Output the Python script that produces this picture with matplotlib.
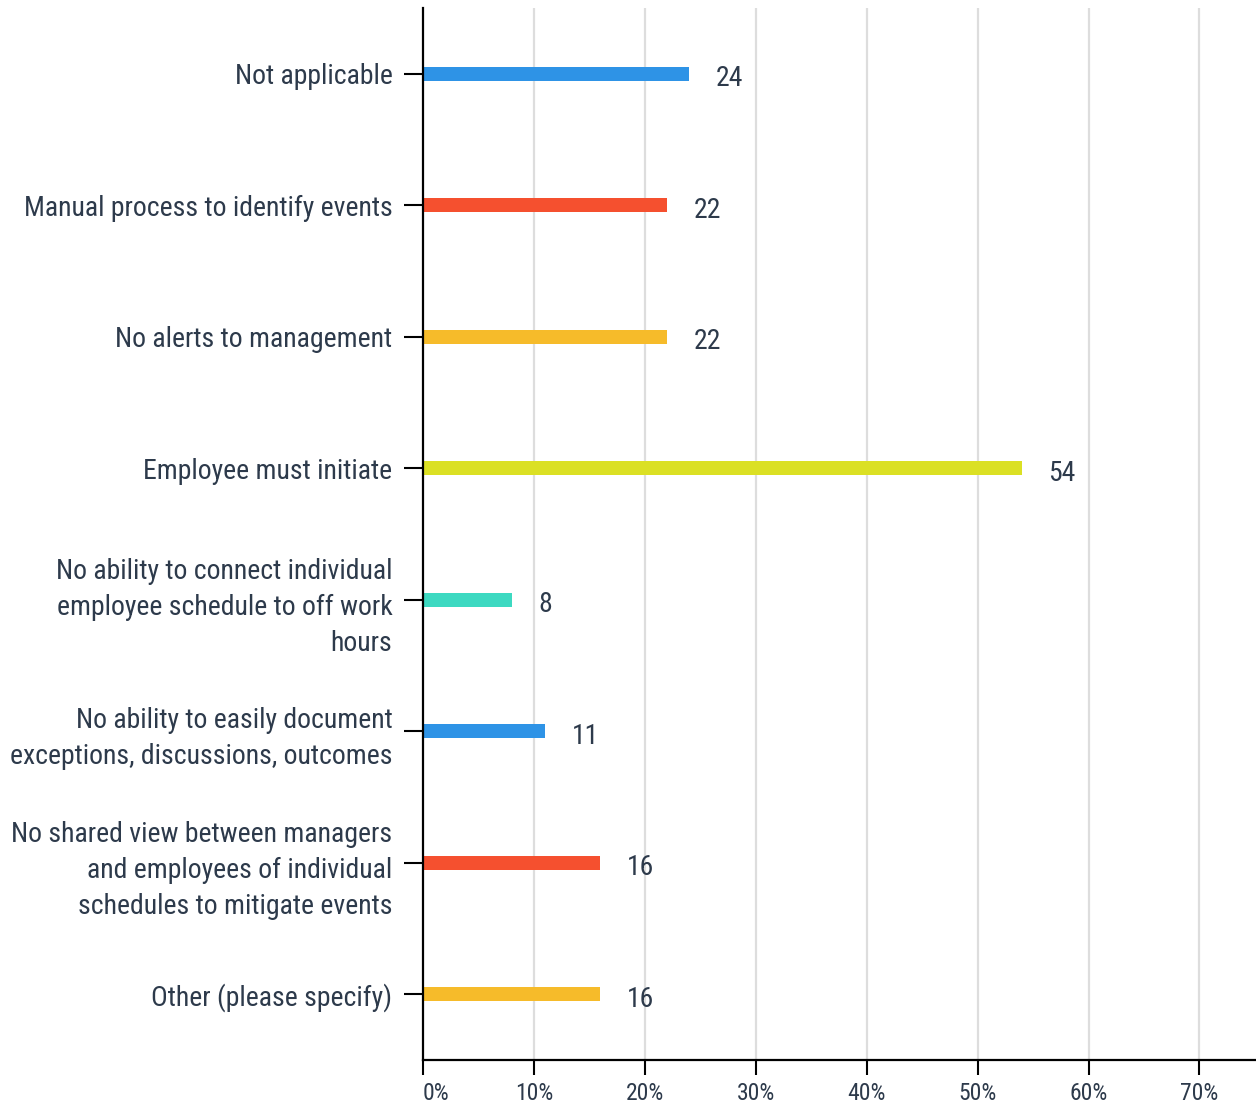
import matplotlib
matplotlib.use("Agg")
from matplotlib import pyplot as plt
from matplotlib import font_manager
from matplotlib.ticker import FuncFormatter
import numpy as np

categories = [
    "Not applicable",
    "Manual process to identify events",
    "No alerts to management",
    "Employee must initiate",
    "No ability to connect individual\nemployee schedule to off work\nhours",
    "No ability to easily document\nexceptions, discussions, outcomes",
    "No shared view between managers\nand employees of individual\nschedules to mitigate events",
    "Other (please specify)",
]
percent = [24, 22, 22, 54, 8, 11, 16, 16]
colors = ["#2e93e6", "#f5502f", "#f6bb2a", "#dbe024", "#3dd9c1",
          "#2e93e6", "#f5502f", "#f6bb2a"]

names = {f.name for f in font_manager.fontManager.ttflist}
family = "Roboto Condensed" if "Roboto Condensed" in names else "Roboto"
plt.rcParams["font.family"] = [family, "DejaVu Sans"]

text_color = "#2d3a4b"

fig = plt.figure(figsize=(12.56, 11.06), dpi=100)
ax = fig.add_axes([423 / 1256, 1 - 1060 / 1106, 1 - 423 / 1256, 1052 / 1106])

y = np.arange(len(categories))
ax.barh(y, percent, height=0.105, color=colors, zorder=3)

# count labels just past the end of each bar
for yi, v in zip(y, percent):
    ax.annotate(str(v), (v, yi), xytext=(19, -1.5), textcoords="offset points",
                ha="left", va="center_baseline", fontsize=20, color=text_color)

ax.set_ylim(len(categories) - 0.5, -0.5)
ax.set_xlim(0, 75.1)
ax.set_xticks(np.arange(0, 71, 10))
ax.xaxis.set_major_formatter(FuncFormatter(lambda v, p: f"{v:.0f}%"))
ax.set_yticks(y)
ax.set_yticklabels(categories, fontsize=20, color=text_color, ha="right",
                   linespacing=1.42)

for i, lbl in enumerate(ax.get_xticklabels()):
    lbl.set_horizontalalignment("left" if i == 0 else "center")
    lbl.set_fontsize(17)
    lbl.set_color(text_color)

ax.tick_params(axis="y", length=14, width=1.5, pad=8)
ax.tick_params(axis="x", length=11, width=1.5, pad=5)

ax.grid(axis="x", color="#dddddd", linewidth=1.6, zorder=0)
ax.xaxis.get_gridlines()[0].set_visible(False)
for s in ["top", "right"]:
    ax.spines[s].set_visible(False)
for s in ["left", "bottom"]:
    ax.spines[s].set_linewidth(1.6)
    ax.spines[s].set_zorder(4)

fig.savefig("out.png", dpi=100)
